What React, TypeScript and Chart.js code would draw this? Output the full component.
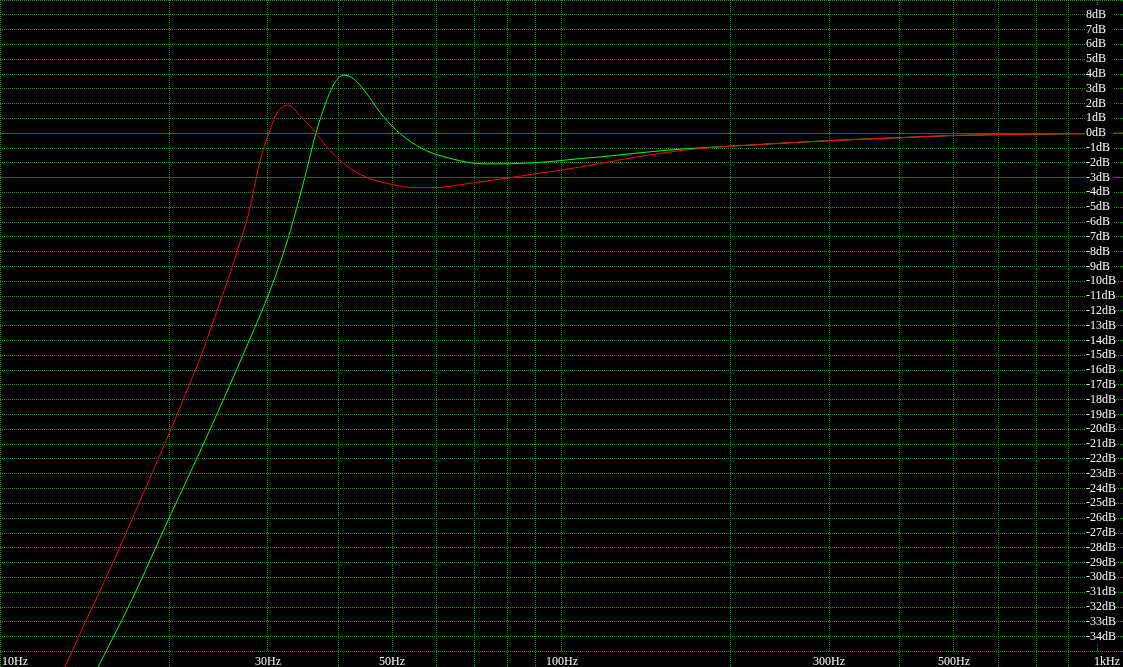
import { useEffect, useRef } from "react";
import { Chart, registerables } from "chart.js";

Chart.register(...registerables);

// Red response (Hz, dB)
const RED_FREQ = [12.53, 13.05, 13.88, 14.82, 16.02, 17.04, 18.49, 20.0, 21.35, 22.71, 24.14, 25.67, 26.74, 27.86, 28.79, 29.39, 30.12, 31.12, 32.56, 34.2, 36.37, 38.21, 40.3, 42.5, 45.57, 50.08, 54.36, 60.23, 64.03, 69.52, 77.67, 88.89, 102.2, 117, 134, 154, 176.3, 216.4, 300, 400, 501, 740, 1000];
const RED_DB = [-37.5, -36.07, -33.8, -31.5, -28.7, -26.4, -23.3, -20.3, -17.7, -15.2, -12.4, -9.5, -7.4, -5.1, -2.5, -1.15, 0, 1.35, 1.9, 1.2, 0.1, -0.93, -1.82, -2.5, -3.06, -3.47, -3.67, -3.67, -3.55, -3.36, -3.1, -2.77, -2.43, -2.05, -1.64, -1.3, -1.03, -0.8, -0.5, -0.3, -0.15, -0.05, 0];

// Green response (Hz, dB)
const GREEN_FREQ = [14.35, 14.94, 17.18, 20.0, 22.71, 25.67, 27.86, 30.0, 32.16, 33.74, 35.16, 36.37, 37.63, 38.95, 39.75, 40.85, 42.55, 44.96, 47.48, 50.14, 52.97, 57.5, 63.25, 67.83, 73.64, 82.59, 90.36, 99.3, 107.8, 117, 134, 154, 176.3, 216.4, 300, 400, 501, 740, 1000];
const GREEN_DB = [-37.4, -36.07, -31.5, -26.0, -21.5, -17.0, -13.9, -11.0, -7.8, -5.09, -2.5, -0.25, 1.55, 3.02, 3.58, 3.92, 3.71, 2.7, 1.42, 0.41, -0.37, -1.18, -1.69, -1.95, -2.07, -2.05, -1.98, -1.85, -1.71, -1.6, -1.37, -1.15, -0.99, -0.8, -0.5, -0.3, -0.15, -0.05, 0];

const X_GRID_FREQS = [10, 20, 30, 40, 50, 60, 70, 80, 90, 100, 200, 300, 400, 500, 600, 700, 800, 900, 1000];
const X_LABEL_FREQS = [10, 30, 50, 100, 300, 500, 1000];
const X_LABEL_TEXTS = ["10Hz", "30Hz", "50Hz", "100Hz", "300Hz", "500Hz", "1kHz"];
const Y_GRID_DB = [9, 8, 7, 6, 5, 4, 3, 2, 1, 0, -1, -2, -3, -4, -5, -6, -7, -8, -9, -10, -11, -12, -13, -14, -15, -16, -17, -18, -19, -20, -21, -22, -23, -24, -25, -26, -27, -28, -29, -30, -31, -32, -33, -34, -35];
const Y_LABEL_DB = [8, 7, 6, 5, 4, 3, 2, 1, 0, -1, -2, -3, -4, -5, -6, -7, -8, -9, -10, -11, -12, -13, -14, -15, -16, -17, -18, -19, -20, -21, -22, -23, -24, -25, -26, -27, -28, -29, -30, -31, -32, -33, -34];
const REF_LINES_DB = [0, -3];
const REF_LINES_COLORS = ["rgb(255,0,0)", "rgb(170,0,170)"];
const Y_MAX = 9;
const Y_MIN = -36.05;
const X_MIN = 10;
const X_MAX = 1000;

const GRID_GREEN = "#00a000";
const FONT = '12px "Liberation Serif", "DejaVu Serif", serif';

const overlayPlugin = {
  id: "overlay",
  afterDatasetsDraw(chart: any) {
    const ctx = chart.ctx as CanvasRenderingContext2D;
    const xs = chart.scales.x;
    const ys = chart.scales.y;
    const W = chart.width;
    const H = chart.height;
    ctx.save();
    // reference lines (0 dB, -3 dB), solid 1px
    ctx.setLineDash([]);
    ctx.lineWidth = 1;
    ctx.globalAlpha = 1;
    REF_LINES_DB.forEach((v, i) => {
      const yy = Math.floor(ys.getPixelForValue(v));
      ctx.fillStyle = REF_LINES_COLORS[i];
      ctx.fillRect(0, yy, W, 1);
    });
    // y labels
    ctx.font = FONT;
    ctx.textAlign = "left";
    ctx.textBaseline = "alphabetic";
    const boxLeft = W - 38;
    ctx.fillStyle = "#000";
    Y_LABEL_DB.forEach((v) => {
      const y = Math.round(ys.getPixelForValue(v));
      ctx.fillRect(boxLeft, y - 10, 28, 16);
    });
    ctx.fillStyle = "#fff";
    Y_LABEL_DB.forEach((v) => {
      const y = Math.round(ys.getPixelForValue(v));
      ctx.fillText(`${v}dB`, boxLeft + 1, y + 3);
    });
    // x labels
    const bottomLine = Math.round(ys.getPixelForValue(-35));
    X_LABEL_FREQS.forEach((f, i) => {
      const t = X_LABEL_TEXTS[i];
      const w = ctx.measureText(t).width;
      let left = xs.getPixelForValue(f) - w / 2;
      left = Math.max(2, Math.min(W - 3 - w, left));
      ctx.fillStyle = "#000";
      ctx.fillRect(Math.floor(left) - 1, bottomLine + 1, Math.ceil(w) + 3, H - bottomLine);
      ctx.fillStyle = "#fff";
      ctx.fillText(t, Math.round(left), H - 2);
    });
    ctx.restore();
  },
};

export default function App() {
  const ref = useRef<HTMLCanvasElement>(null);
  useEffect(() => {
    if (!ref.current) return;
    const chart = new Chart(ref.current, {
      type: "line",
      data: {
        datasets: [
          {
            label: "red",
            data: RED_FREQ.map((f, i) => ({ x: f, y: RED_DB[i] })),
            borderColor: "#ff0000",
            borderWidth: 1,
            pointRadius: 0,
            fill: false,
            cubicInterpolationMode: "monotone",
          },
          {
            label: "green",
            data: GREEN_FREQ.map((f, i) => ({ x: f, y: GREEN_DB[i] })),
            borderColor: "#00ff00",
            borderWidth: 1,
            pointRadius: 0,
            fill: false,
            cubicInterpolationMode: "monotone",
          },
        ],
      },
      options: {
        animation: false,
        responsive: false,
        devicePixelRatio: 1,
        events: [],
        layout: { padding: 0, autoPadding: false },
        plugins: { legend: { display: false }, tooltip: { enabled: false } },
        scales: {
          x: {
            type: "logarithmic",
            min: X_MIN,
            max: X_MAX,
            afterBuildTicks: (s: any) => {
              s.ticks = X_GRID_FREQS.map((v) => ({ value: v }));
            },
            ticks: { display: false },
            grid: { color: GRID_GREEN, lineWidth: 1, drawTicks: false },
            border: { display: false, dash: [1, 1] },
          },
          y: {
            type: "linear",
            min: Y_MIN,
            max: Y_MAX,
            afterBuildTicks: (s: any) => {
              s.ticks = Y_GRID_DB.map((v) => ({ value: v }));
            },
            ticks: { display: false },
            grid: { color: GRID_GREEN, lineWidth: 1, drawTicks: false },
            border: { display: false, dash: [1, 1] },
          },
        },
      } as any,
      plugins: [overlayPlugin],
    });
    return () => chart.destroy();
  }, []);
  return (
    <div style={{ position: "fixed", left: 0, top: 0, width: 1123, height: 667, background: "#000" }}>
      <canvas ref={ref} width={1123} height={667} style={{ display: "block" }} />
    </div>
  );
}
